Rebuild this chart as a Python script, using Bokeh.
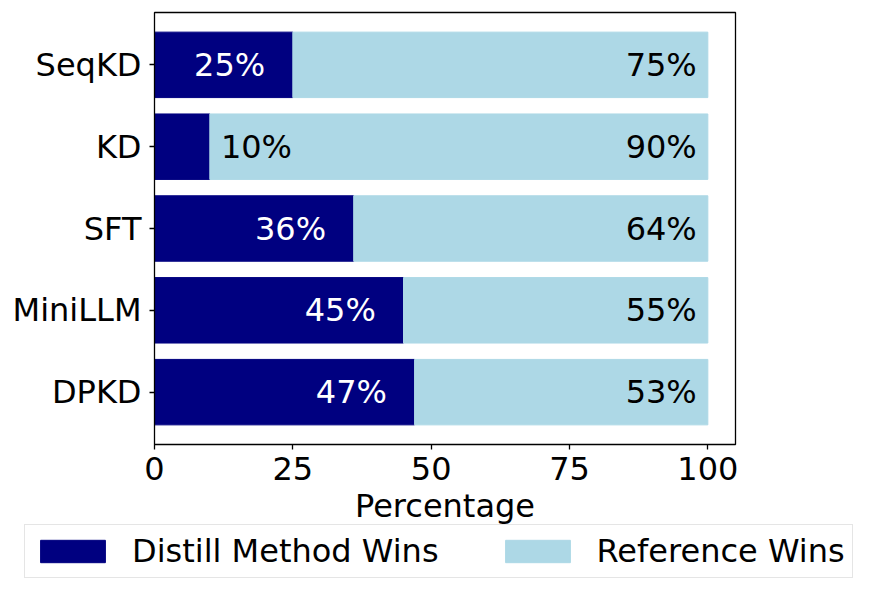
from bokeh.core.properties import value
from bokeh.embed import file_html
from bokeh.models import BoxAnnotation, ColumnDataSource, FixedTicker, Legend, LegendItem, Range1d
from bokeh.plotting import figure
from bokeh.resources import INLINE

methods = ["SeqKD", "KD", "SFT", "MiniLLM", "DPKD"]
distill_wins = [25, 10, 36, 45, 47]
reference_wins = [75, 90, 64, 55, 53]

navy = "#000080"
light = "#ADD8E6"
font = "DejaVu Sans"

W, H = 859, 579
# plot box in pixels (left, right, top, bottom) and its data limits
box_l, box_r, box_t, box_b = 154, 735, 12, 444
x0, x1 = 0, 105
y0, y1 = -0.64, 4.64

kx = (box_r - box_l) / (x1 - x0)
ky = (box_b - box_t) / (y1 - y0)

# top to bottom like matplotlib barh with inverted order
ypos = list(range(len(methods) - 1, -1, -1))

src = ColumnDataSource(dict(
    y=ypos,
    d=distill_wins,
    r=reference_wins,
    total=[a + b for a, b in zip(distill_wins, reference_wins)],
))

# the frame fills the whole canvas so the legend box can sit under the axis
p = figure(width=W, height=H, min_border=0,
           x_range=Range1d(x0 - box_l / kx, x1 + (W - box_r) / kx),
           y_range=Range1d(y0 - (H - box_b) / ky, y1 + box_t / ky),
           output_backend="svg", toolbar_location=None, tools="")
p.outline_line_color = None

r1 = p.hbar(y="y", left=0, right="d", height=0.8, color=navy, source=src)
r2 = p.hbar(y="y", left="d", right="total", height=0.8, color=light, source=src)

# percentage labels
lx, lalign, lcol, ltxt = [], [], [], []
for v in distill_wins:
    if v >= 15:
        lx.append(v - 5); lalign.append("right"); lcol.append("white")
    else:
        lx.append(v + 2); lalign.append("left"); lcol.append("black")
    ltxt.append(f"{v}%")
rx = [98] * len(reference_wins)
rtxt = [f"{v}%" for v in reference_wins]

lab = ColumnDataSource(dict(
    x=lx + rx, y=ypos + ypos, t=ltxt + rtxt,
    c=lcol + ["black"] * len(rx), a=lalign + ["right"] * len(rx),
))
p.text(x="x", y="y", text="t", text_color="c", text_align="a", text_baseline="middle",
       text_font=value(font), text_font_size="32px", source=lab)

p.add_layout(BoxAnnotation(left=x0, right=x1, bottom=y0, top=y1, fill_alpha=0,
                           line_color="black", line_width=1.3, line_alpha=1))

p.xgrid.grid_line_color = None
p.ygrid.grid_line_color = None

p.xaxis.fixed_location = y0
p.yaxis.fixed_location = x0
p.xaxis.bounds = (x0, x1)
p.yaxis.bounds = (y0, y1)
p.xaxis.ticker = FixedTicker(ticks=[0, 25, 50, 75, 100])
p.yaxis.ticker = FixedTicker(ticks=ypos)
p.yaxis.major_label_overrides = {y: m for y, m in zip(ypos, methods)}
p.xaxis.axis_label = "Percentage"
for ax in (p.xaxis, p.yaxis):
    ax.axis_line_color = None
    ax.major_tick_out = 5
    ax.major_tick_in = 0
    ax.minor_tick_line_color = None
    ax.major_tick_line_width = 1.3
    ax.major_label_text_font = font
    ax.major_label_text_font_size = "32px"
    ax.major_label_text_color = "black"
    ax.axis_label_text_font = font
    ax.axis_label_text_font_size = "32px"
    ax.axis_label_text_font_style = "normal"
    ax.axis_label_text_color = "black"
p.xaxis.major_label_standoff = 7
p.xaxis.axis_label_standoff = 4
p.yaxis.major_label_standoff = 8

legend = Legend(items=[LegendItem(label="Distill Method Wins", renderers=[r1]),
                       LegendItem(label="Reference Wins", renderers=[r2])],
                orientation="horizontal", location=(24, 1), margin=0, padding=7,
                spacing=58, glyph_width=81, glyph_height=28, label_standoff=19,
                label_text_font=font, label_text_font_size="32px", label_text_color="black",
                border_line_color="#cccccc", border_line_width=1.5)
p.add_layout(legend, "center")

open("out.html", "w").write(file_html(p, INLINE))
